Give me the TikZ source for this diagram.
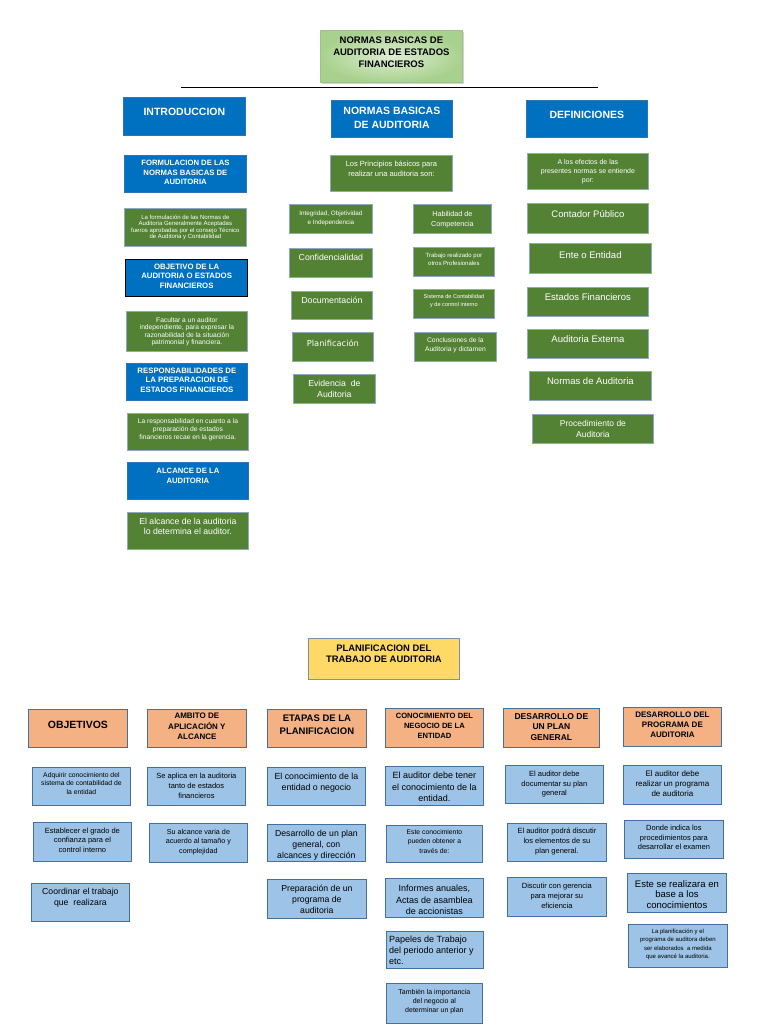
\documentclass[tikz,border=0pt]{standalone}
\usepackage{fontspec}
\setmainfont{Liberation Sans}
\newfontfamily\dejavu{DejaVu Sans}
\usetikzlibrary{shadows}

\definecolor{azulC}{HTML}{0070C0}
\definecolor{bordeA}{HTML}{2E75B6}
\definecolor{verdeC}{HTML}{548235}
\definecolor{bordeV}{HTML}{8EA9C1}
\definecolor{celesteC}{HTML}{9DC3E6}
\definecolor{bordeC}{HTML}{41719C}
\definecolor{naranjaC}{HTML}{F4B183}
\definecolor{amarillaC}{HTML}{FFD966}
\definecolor{bordeG}{HTML}{7F8FA6}
\definecolor{tituloIn}{HTML}{DDEDD3}
\definecolor{tituloOut}{HTML}{A9D18E}

\newcommand\tam[2]{\fontsize{#1}{#2}\selectfont}
% caja: nombre, estilo, x1, y1, x2, y2, margen, letra, texto
\newcommand\caja[9]{%
  \node[#2, minimum width={(#5-#3)*1pt}, minimum height={(#6-#4)*1pt}, anchor=north west] (#1) at (#3,-#4) {};
  \node[#2 txt, font=#8, anchor=north] (#1-t) at ([yshift=-#7pt]#1.north) {#9};
}

\tikzset{
  caja/.style={rectangle, inner sep=0pt, line width=0.8pt},
  azul/.style={caja, fill=azulC, draw=bordeA},
  azulnegro/.style={caja, fill=azulC, draw=black, line width=1.3pt},
  verde/.style={caja, fill=verdeC, draw=bordeV},
  celeste/.style={caja, fill=celesteC, draw=bordeC},
  naranja/.style={caja, fill=naranjaC, draw=bordeC},
  amarilla/.style={caja, fill=amarillaC, draw=bordeG},
  titulo/.style={caja, inner color=tituloIn, outer color=tituloOut, draw=tituloOut!80!gray,
    drop shadow={shadow xshift=2pt, shadow yshift=-2pt, opacity=.35}},
  texto/.style={inner sep=0pt, align=center},
  azul txt/.style={texto, text=white},
  azulnegro txt/.style={texto, text=white},
  verde txt/.style={texto, text=white},
  celeste txt/.style={texto, text=black},
  naranja txt/.style={texto, text=black},
  amarilla txt/.style={texto, text=black},
  titulo txt/.style={texto, text=black},
}

\begin{document}
\begin{tikzpicture}[x=1pt, y=1pt]
\useasboundingbox[fill=white] (0,0) rectangle (768,-1024);

\caja{titulo}{titulo}{320}{30}{462}{82}{6.5}{\bfseries\tam{9.5}{12}}{NORMAS BASICAS DE\\AUDITORIA DE ESTADOS\\FINANCIEROS}
\coordinate (lineaI) at (181,-87.5);
\coordinate (lineaD) at (598,-87.5);
\draw[line width=0.9pt] (lineaI) -- (lineaD);

% introduccion
\caja{intro}{azul}{123}{97}{245}{135}{11}{\bfseries\tam{10.5}{12}}{INTRODUCCION}
\caja{formul}{azul}{124}{155}{246}{192}{5}{\bfseries\tam{7.7}{9.5}}{FORMULACION DE LAS\\NORMAS BASICAS DE\\AUDITORIA}
\caja{formulT}{verde}{124}{208}{246}{246}{7}{\tam{6}{6.3}}{La formulación de las Normas de\\Auditoria Generalmente Aceptadas\\fueros aprobadas por el consejo Técnico\\de Auditoria y Contabilidad}
\caja{objet}{azulnegro}{125}{259}{247}{296}{4.5}{\bfseries\tam{7.8}{9.5}}{OBJETIVO DE LA\\AUDITORIA O ESTADOS\\FINANCIEROS}
\caja{objetT}{verde}{126}{311}{247}{351}{6}{\tam{6.7}{7.6}}{Facultar a un auditor\\independiente, para expresar la\\razonabilidad de la situación\\patrimonial y financiera.}
\caja{respon}{azul}{126}{363}{247}{400}{4.5}{\bfseries\tam{7.8}{9.8}}{RESPONSABILIDADES DE\\LA PREPARACION DE\\ESTADOS FINANCIEROS}
\caja{responT}{verde}{127}{413}{248}{450}{5}{\tam{6.7}{8.4}}{La responsabilidad en cuanto a la\\preparación de  estados\\financieros recae en la gerencia.}
\caja{alcance}{azul}{127}{462}{248}{499}{6}{\bfseries\tam{7.7}{9.5}}{ALCANCE DE LA\\AUDITORIA}
\caja{alcanceT}{verde}{127}{512}{248}{549}{6}{\tam{8.7}{10}}{El alcance de la auditoria\\lo determina el auditor.}

% normas basicas
\caja{normas}{azul}{331}{100}{452}{137}{7}{\bfseries\tam{10.5}{13.5}}{NORMAS BASICAS\\DE AUDITORIA}
\caja{princ}{verde}{330}{155}{452}{191}{6}{\tam{7.5}{9.8}}{Los Principios básicos para\\realizar una auditoria son:}
\caja{integ}{verde}{289}{204}{372}{233}{7}{\tam{6.3}{8.5}}{Integridad, Objetividad\\e Independencia}
\caja{habil}{verde}{413}{204}{491}{233}{7}{\tam{7.2}{10}}{Habilidad de\\Competencia}
\caja{confid}{verde}{289}{248}{372}{277}{6}{\tam{8.7}{10}}{Confidencialidad}
\caja{trabajo}{verde}{413}{247}{494}{276}{6}{\tam{6}{8.3}}{Trabajo realizado por\\otros Profesionales}
\caja{docum}{verde}{291}{291}{372}{319}{6}{\tam{8.8}{10}}{Documentación}
\caja{sistema}{verde}{413}{289}{494}{318}{5}{\tam{5.6}{8}}{Sistema de Contabilidad\\y de control interno}
\caja{planif}{verde}{292}{332}{373}{361}{8}{\dejavu\tam{8.3}{10}}{Planificación}
\caja{concl}{verde}{414}{332}{496}{361}{5}{\tam{6.7}{9.3}}{Conclusiones de la\\Auditoria y dictamen}
\caja{evid}{verde}{293}{374}{375}{403}{6}{\tam{8.7}{11}}{Evidencia\ \ de\\Auditoria}

% definiciones
\caja{defin}{azul}{526}{100}{647}{137}{11}{\bfseries\tam{10.5}{12}}{DEFINICIONES}
\caja{efectos}{verde}{527}{153}{648}{189}{6}{\tam{7}{9.2}}{A los efectos de las\\presentes normas se entiende\\por:}
\caja{contador}{verde}{527}{203}{648}{233}{7}{\tam{9.5}{11}}{Contador Público}
\caja{ente}{verde}{529}{243}{651}{273}{8}{\tam{9.5}{11}}{Ente o Entidad}
\caja{estados}{verde}{527}{287}{648}{316}{6}{\tam{9.5}{11}}{Estados Financieros}
\caja{externa}{verde}{527}{329}{648}{358}{6}{\tam{9.5}{11}}{Auditoria Externa}
\caja{normasaud}{verde}{529}{371}{651}{400}{6}{\tam{9.5}{11}}{Normas de Auditoria}
\caja{proced}{verde}{532}{414}{653}{443}{6}{\tam{8.5}{10.7}}{Procedimiento de\\Auditoria}

% planificacion
\caja{plan}{amarilla}{308}{638}{459}{679}{7}{\bfseries\tam{9.4}{11}}{PLANIFICACION DEL\\TRABAJO DE AUDITORIA}
\caja{objetivos}{naranja}{28}{709}{127}{747}{12}{\bfseries\tam{10.5}{12}}{OBJETIVOS}
\caja{ambito}{naranja}{147}{709}{246}{747}{4}{\bfseries\tam{8}{10.5}}{AMBITO DE\\APLICACIÓN Y\\ALCANCE}
\caja{etapas}{naranja}{267}{709}{366}{747}{6}{\bfseries\tam{9.5}{12.5}}{ETAPAS DE LA\\PLANIFICACION}
\caja{conoc}{naranja}{385}{708}{483}{747}{5}{\bfseries\tam{7.6}{10}}{CONOCIMIENTO DEL\\NEGOCIO DE LA\\ENTIDAD}
\caja{desplan}{naranja}{503}{708}{599}{747}{5}{\bfseries\tam{8.5}{10.7}}{DESARROLLO DE\\UN PLAN\\GENERAL}
\caja{desprog}{naranja}{623}{707}{721}{746}{5}{\bfseries\tam{8}{10}}{DESARROLLO DEL\\PROGRAMA DE\\AUDITORIA}

\caja{adq}{celeste}{32}{767}{130}{805}{5}{\tam{6.8}{8.8}}{Adquirir conocimiento del\\sistema de contabilidad de\\la entidad}
\caja{grado}{celeste}{33}{822}{131}{861}{6}{\tam{7.5}{9.3}}{Establecer el grado de\\confianza para el\\control interno}
\caja{coord}{celeste}{31}{883}{129}{921}{5}{\tam{8.7}{11}}{Coordinar el trabajo\\que\ \ realizara}

\caja{aplica}{celeste}{147}{767}{245}{805}{6}{\tam{7.5}{10}}{Se aplica en la auditoria\\tanto de estados\\financieros}
\caja{varia}{celeste}{149}{823}{247}{862}{6}{\tam{7.2}{9.5}}{Su alcance varia de\\acuerdo al tamaño y\\complejidad}

\caja{etapa1}{celeste}{267}{767}{365}{805}{6}{\tam{8.8}{10.7}}{El conocimiento de la\\entidad o negocio}
\caja{etapa2}{celeste}{267}{824}{365}{861}{6}{\tam{8.7}{11.2}}{Desarrollo de un plan\\general, con\\alcances y dirección}
\caja{etapa3}{celeste}{267}{879}{366}{918}{6}{\tam{8.7}{11}}{Preparación de un\\programa de\\auditoria}

\caja{neg1}{celeste}{385}{766}{483}{805}{6}{\tam{9}{11.3}}{El auditor debe tener\\el conocimiento de la\\entidad.}
\caja{neg2}{celeste}{386}{825}{482}{862}{4}{\tam{6.8}{9.5}}{Este conocimiento\\pueden obtener a\\través de:}
\caja{neg3}{celeste}{385}{878}{483}{917}{7}{\tam{9}{11.3}}{Informes anuales,\\Actas de asamblea\\de accionistas}
\node[celeste, minimum width=97pt, minimum height=37pt, anchor=north west] (neg4) at (386,-931) {};
\node[celeste txt, align=left, anchor=north west, font=\tam{9}{11}] (neg4-t) at ([xshift=3pt,yshift=-5pt]neg4.north west) {Papeles de Trabajo\\del periodo anterior y\\etc.};
\caja{neg5}{celeste}{386}{983}{482}{1023}{6}{\tam{7}{9.3}}{También la importancia\\del negocio al\\determinar un plan}

\caja{dp1}{celeste}{505}{765}{603}{803}{6}{\tam{7.5}{9.5}}{El auditor debe\\documentar su plan\\general}
\caja{dp2}{celeste}{507}{823}{606}{861}{5}{\tam{7.5}{10}}{El auditor podrá discutir\\los elementos de su\\plan general.}
\caja{dp3}{celeste}{507}{877}{606}{916}{6}{\tam{7.5}{10}}{Discutir con gerencia\\para mejorar su\\eficiencia}

\caja{pr1}{celeste}{623}{765}{721}{804}{5}{\tam{8}{10.3}}{El auditor debe\\realizar un programa\\de auditoria}
\caja{pr2}{celeste}{624}{820}{723}{858}{5}{\tam{7.5}{9.5}}{Donde indica los\\procedimientos para\\desarrollar el examen}
\caja{pr3}{celeste}{627}{873}{726}{912}{7}{\tam{9.5}{10.5}}{Este se realizara en\\base a los\\conocimientos}
\caja{pr4}{celeste}{628}{924}{727}{967}{5}{\tam{6}{8.3}}{La planificación y el\\programa de auditora deben\\ser elaborados\ \ a medida\\que avancé la auditoria.}
\end{tikzpicture}
\end{document}
